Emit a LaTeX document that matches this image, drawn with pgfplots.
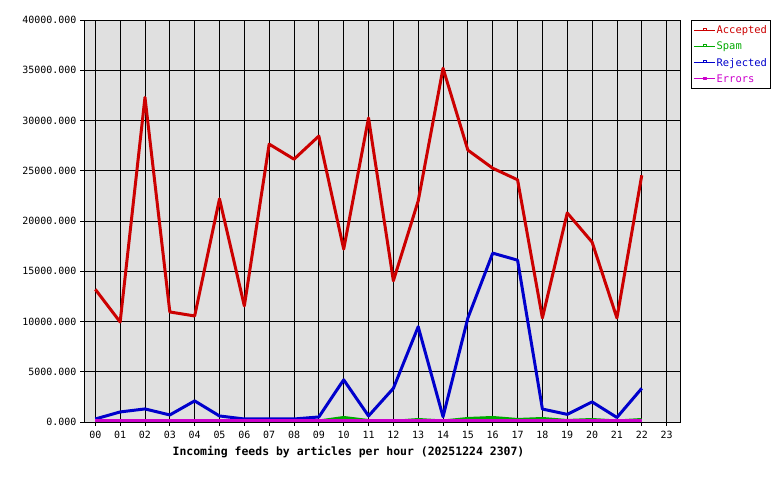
\documentclass[border=0pt]{standalone}
\usepackage{fontspec}
\setmainfont{DejaVu Sans Mono}
\usepackage{pgfplots}
\pgfplotsset{compat=1.18}
\definecolor{bg}{RGB}{224,224,224}
\definecolor{cacc}{RGB}{204,0,0}
\definecolor{cspam}{RGB}{0,170,0}
\definecolor{crej}{RGB}{0,0,204}
\definecolor{cerr}{RGB}{204,0,204}
\pgfplotstableread{
h acc spam rej err
0 13200 60 300 100
1 9950 60 1000 100
2 32300 60 1300 100
3 10950 60 700 100
4 10550 60 2100 100
5 22200 60 600 100
6 11550 60 300 100
7 27650 60 300 100
8 26150 60 300 100
9 28450 100 500 100
10 17200 450 4200 100
11 30250 150 600 100
12 14050 60 3350 100
13 22000 250 9480 100
14 35200 100 520 100
15 27050 350 10350 100
16 25250 450 16800 100
17 24100 250 16100 100
18 10350 350 1290 100
19 20800 150 760 100
20 17900 250 2000 100
21 10350 100 450 100
22 24550 250 3350 100
}\datatable
\begin{document}
\begin{tikzpicture}[x=1bp,y=1bp]
\path[use as bounding box] (0,0) rectangle (780,480);
\begin{axis}[
  at={(84bp,58bp)}, anchor=south west,
  scale only axis, width=596bp, height=402bp,
  xmin=-0.455, xmax=23.54, ymin=0, ymax=40000,
  xtick={0,...,23},
  xticklabels={00,01,02,03,04,05,06,07,08,09,10,11,12,13,14,15,16,17,18,19,20,21,22,23},
  ytick={0,5000,...,40000},
  scaled y ticks=false,
  yticklabel={\pgfmathprintnumber[fixed,fixed zerofill,precision=3,1000 sep={}]{\tick}},
  /pgf/number format/assume math mode=true,
  grid=major,
  grid style={black, line width=0.8pt},
  axis background/.style={fill=bg},
  axis line style={black, line width=0.8pt},
  tick style={black, line width=0.8pt},
  tick align=outside,
  major tick length=4bp,
  xtick pos=bottom, ytick pos=left,
  ticklabel style={font=\fontsize{10}{12}\selectfont},
  xticklabel style={yshift=-2bp},
  xlabel={\textbf{Incoming feeds by articles per hour (20251224 2307)}},
  xlabel style={at={(axis description cs:0.5,0)}, anchor=center, yshift=-30bp, xshift=-33.5bp, font=\fontsize{11.5}{13}\selectfont},
  legend style={at={(1,1)}, anchor=north west, xshift=11bp, draw=black, line width=0.8pt, fill=white,
    font=\fontsize{10.5}{12}\selectfont, inner xsep=2bp, inner ysep=4bp, row sep=4.5bp,
    nodes={inner sep=1.2bp}},
  legend cell align=left,
  legend image code/.code={
    \draw[line width=1pt] (0bp,0bp) -- (21bp,0bp);
    \draw[line width=0.8pt] (9bp,0bp) rectangle (12bp,2bp);
  },
]
\addplot[cacc, line width=3pt, line join=round] table[x=h,y=acc] {\datatable};
\addlegendentry{\textcolor{cacc}{Accepted}}
\addplot[cspam, line width=3pt, line join=round] table[x=h,y=spam] {\datatable};
\addlegendentry{\textcolor{cspam}{Spam}}
\addplot[crej, line width=3pt, line join=round] table[x=h,y=rej] {\datatable};
\addlegendentry{\textcolor{crej}{Rejected}}
\addplot[cerr, line width=3pt, line join=round] table[x=h,y=err] {\datatable};
\addlegendentry{\textcolor{cerr}{Errors}}
\end{axis}
\end{tikzpicture}
\end{document}
